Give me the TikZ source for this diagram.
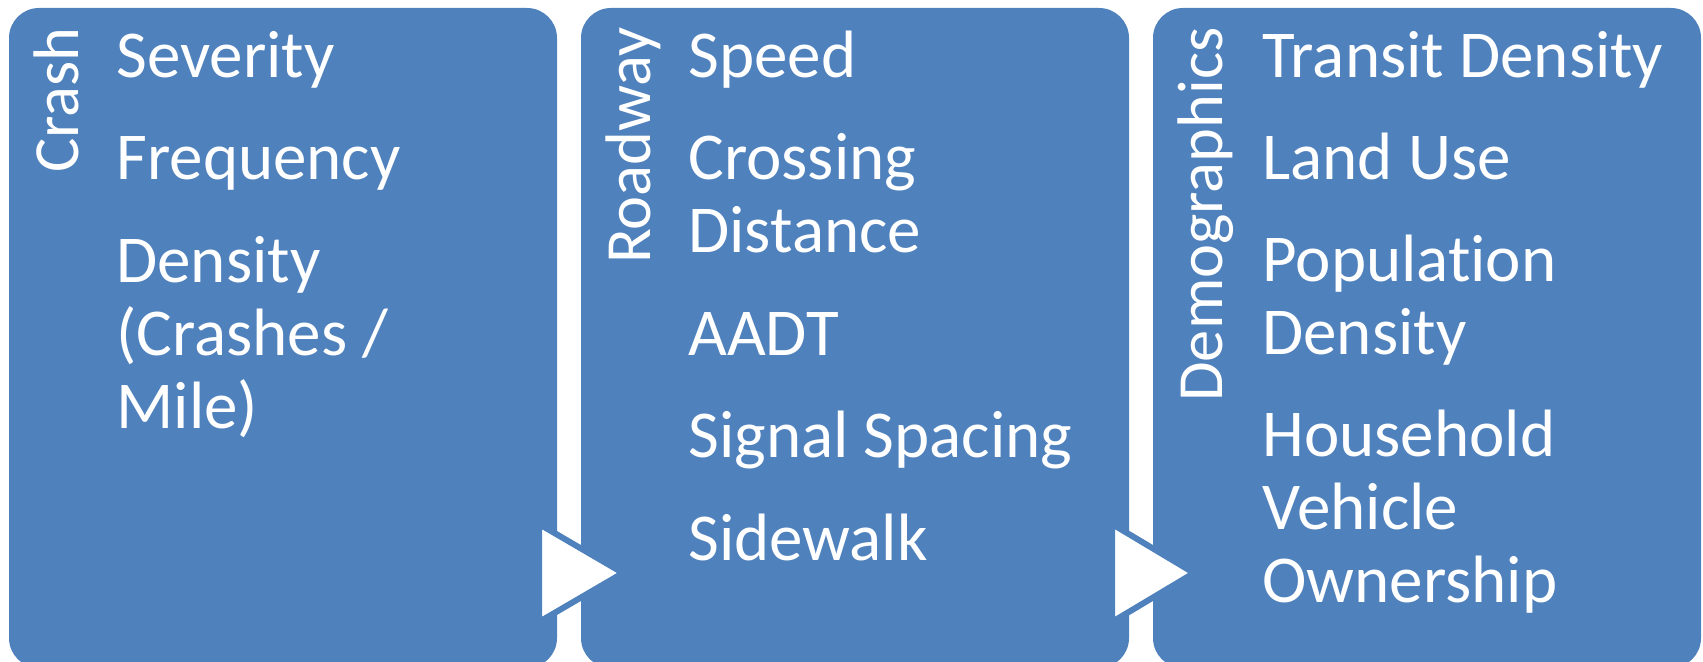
\documentclass[tikz,border=0pt]{standalone}
\usepackage{fontspec}
\setmainfont{Carlito}[Ligatures=NoCommon]
\usepackage{xcolor}
\usepackage{tikz}
\usetikzlibrary{positioning}
\definecolor{stagecolor}{RGB}{79, 129, 189}
\newcommand{\itemlines}[1]{\begin{tabular}[t]{@{}l@{}}#1\end{tabular}}
\tikzset{
    stage/.style={rectangle, rounded corners=15pt, fill=stagecolor, draw=none,
        minimum width=274pt, minimum height=330pt, inner sep=0pt},
    stage label/.style={rotate=90, anchor=base east, inner sep=0pt, text=white,
        font=\fontsize{32.2}{38}\selectfont},
    item/.style={anchor=base west, inner sep=0pt, text=white,
        font=\fontsize{33.5}{36.5}\selectfont},
    step arrow/.style={fill=white, draw=stagecolor, line width=3pt}
}

\begin{document}
\begin{tikzpicture}[x=0.5pt, y=-0.5pt]
    \clip (0,0) rectangle (1703,662);
    \fill[white] (0,0) rectangle (1703,662);

    % Stage boxes
    \node[stage] (crash) at (283,338) {};
    \node[stage] (roadway) at (855,338) {};
    \node[stage] (demo) at (1427,338) {};

    % Arrows between stages
    \draw[step arrow] (539,524) -- (539,622) -- (623,573) -- cycle;
    \draw[step arrow] (1112,524) -- (1112,622) -- (1194,573) -- cycle;

    % Stage titles
    \node[stage label] (crashlbl) at (78,27) {Crash};
    \node[stage label] (roadlbl) at (650,27) {Roadway};
    \node[stage label] (demolbl) at (1222,27) {Demographics};

    % Crash items
    \node[item] (sev) at (116,78) {Severity};
    \node[item] (freq) at (116,180) {Frequency};
    \node[item] (dens) at (116,283) {\itemlines{Density\\(Crashes /\\Mile)}};

    % Roadway items
    \node[item] (speed) at (688,78) {Speed};
    \node[item] (cross) at (688,180) {\itemlines{Crossing\\Distance}};
    \node[item] (aadt) at (688,356) {AADT};
    \node[item] (signal) at (688,458) {Signal Spacing};
    \node[item] (side) at (688,560) {Sidewalk};

    % Demographics items
    \node[item] (transit) at (1262,78) {Transit Density};
    \node[item] (land) at (1262,180) {Land Use};
    \node[item] (pop) at (1262,282) {\itemlines{Population\\Density}};
    \node[item] (house) at (1262,457) {\itemlines{Household\\Vehicle\\Ownership}};
\end{tikzpicture}
\end{document}
